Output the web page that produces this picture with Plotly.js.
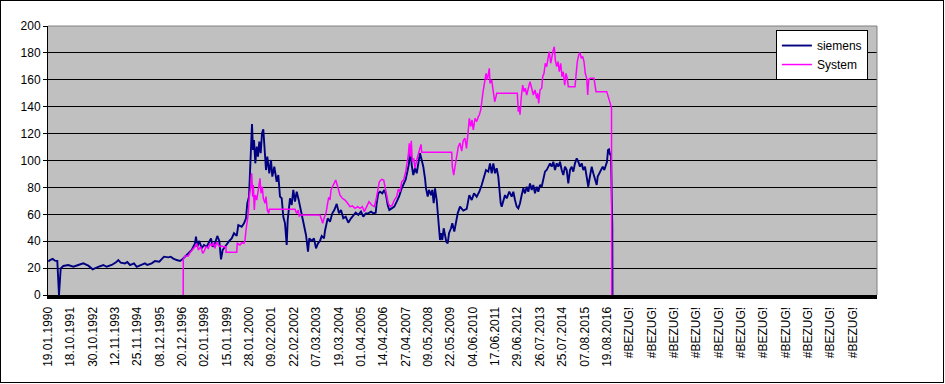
<!DOCTYPE html>
<html>
<head>
<meta charset="utf-8">
<script src="https://cdn.plot.ly/plotly-3.0.1.min.js"></script>
<style>
  html, body { margin: 0; padding: 0; background: #fff; }
  #frame { width: 942px; height: 381px; border: 1px solid #000; position: relative; }
  #chart { width: 942px; height: 381px; }
</style>
</head>
<body>
<div id="frame"><div id="chart"></div></div>
<script>
// Category tick labels (every LABEL_STEP sample positions)
const tickLabels = [
  "19.01.1990","18.10.1991","30.10.1992","12.11.1993","25.11.1994","08.12.1995",
  "20.12.1996","02.01.1998","15.01.1999","28.01.2000","09.02.2001","22.02.2002",
  "07.03.2003","19.03.2004","01.04.2005","14.04.2006","27.04.2007","09.05.2008",
  "22.05.2009","04.06.2010","17.06.2011","29.06.2012","26.07.2013","25.07.2014",
  "07.08.2015","19.08.2016",
  "#BEZUG!","#BEZUG!","#BEZUG!","#BEZUG!","#BEZUG!","#BEZUG!",
  "#BEZUG!","#BEZUG!","#BEZUG!","#BEZUG!","#BEZUG!"
];
const LABEL_STEP = 22.36;   // sample positions between two labels
const X_END = 829;          // last category position on the axis

// siemens: sample position, value
const siemensX = [0.3,2,4.7,7,9.3,10.3,11,12.7,15.3,20.3,25.3,30.3,35.3,40.3,44.7,50.3,55.3,58.7,63.7,68,70.3,72.7,77,79.3,82,86,88.7,92.7,97,99.3,103.7,107,111.3,116,120.3,122.7,125.3,128.7,132,134.7,
137,140.3,143.7,147,148,149.3,151.3,153.7,156,158.7,161.3,163,164.7,167,169.3,171.3,173,174.7,177,179.3,181.3,183.7,186,188.7,190.3,193.7,196,198,199.3,201,202,203,204,205,206,207.3,208.7,210,211.3,212.7,214,215.3,216.3,218,219.3,221.3,223,224.3,226.3,228.7,230.3,231.3,232,233.7,235.3,237,238.7,239.7,242,243.7,245.3,247,248.7,250.7,252.7,254.7,256,258,260,261.3,263.7,266,268,270,272,273.7,276,
277,279.7,282,284.3,286.3,288.7,291,293,295.3,297.7,300.3,303,305.3,307.7,310.3,313,315.3,317.7,320.3,323,325.3,327.7,328.7,330.3,332,334.3,336.3,338,339.7,341.3,343.7,346.3,348.7,351,353.7,355.7,357.7,359.7,361,362.3,363.7,365.3,367,368.7,370.3,372,373.7,375.3,377,378,379.7,381,383,384.3,385.7,387,388.7,389.7,391,392,393,394.3,395.7,397,398.3,399.7,401,403,404.3,406.3,407.7,409.7,
412,415.3,418.7,421.3,423.7,426,428.7,431.3,433.7,436,438,440.3,442,443.7,445.3,447,448.7,450.3,451.3,452.7,453.7,455.3,457,458.7,461.3,463.7,465.3,467,468.7,470.3,472,473.7,475.3,477,478.7,480.3,482,483.7,485.3,487,488.7,490.3,492,493.7,495.3,497,498.7,500.3,502,503.7,505.3,507,508.7,510.3,512,513.7,515.3,517,518.7,520.3,522,523.7,525.3,527,528.7,530.3,532,533.7,535.3,537,538.7,540.3,541.3,542.7,543.7,545.3,547,548.7,549.7,551.3,552.7,554.7,556.3,557.7,559,560,561,562,563,564.3,564.5];
const siemensY = [24.8,26.0,26.8,25.5,25.3,12.4,0,19.8,21.6,22.3,21.0,22.3,23.5,21.8,19.1,21.0,22.3,21.0,22.3,24.3,26.0,24.0,23.5,24.5,22.3,23.5,21.0,22.3,23.5,22.3,23.5,25.3,24.8,28.5,28.0,28.5,27.1,26.0,25.3,26.8,
28.5,31,33.5,38.4,43.4,35.9,40.2,34.7,37.2,35.9,40.2,42.1,35.9,38.4,43.9,40.2,26.5,33.5,35.9,38.4,40.2,42.1,45.9,43.9,52.0,50.8,53.3,57.0,68.2,73.1,90.5,112.8,127.1,107.8,115.2,97.9,110.3,102.9,114,105.4,120.2,123.2,107.8,92.9,102.9,90.5,100.4,88,95.4,84.2,89.2,79.3,73.1,71.9,58.2,53.3,37.2,55.8,71.9,66.9,78.1,69.4,76.8,70.6,63.2,55.8,50.8,44.6,32.2,42.1,40.2,42.1,34.7,38.4,40.2,43.9,42.1,
47.8,57.0,54.5,60.7,63.2,67.7,60.7,63.2,57.0,58.2,53.8,57.0,59.5,61.2,59.5,62,58.2,60.7,60.7,62,60.7,61.2,68.2,75.6,76.8,75.6,78.1,74.3,66.9,63.2,64.4,65.7,69.4,73.1,79.3,83,86.0,92.9,97.9,110.3,96.6,89.2,94.2,90.5,97.9,105.4,100.4,95.4,86.8,79.3,73.1,78.1,74.3,78.1,68.2,79.3,70.6,63.2,50.8,40.9,45.9,40.9,49.6,43.4,39.6,38.4,45.9,49.6,53.3,47.1,53.3,60.7,
65.7,62.8,64,74.3,70.6,75.6,73.1,76.8,81.8,88,92.9,91.7,97.9,90.5,97.9,90.5,94.2,88,78.1,68.2,65.7,70.6,74.3,71.9,76.8,73.1,76.8,70.6,65.7,64.4,68.2,74.3,79.3,75.6,80.5,76.8,83.0,78.1,81.8,75.6,80.5,76.8,81.8,80.5,85.5,91.7,92.9,95.4,97.9,95.4,99.1,92.9,97.9,95.4,99.1,92.9,89.2,95.4,92.9,83,92.9,95.4,91.7,97.9,101.6,99.1,95.4,97.9,92.9,95.4,88,80.5,85.5,92.9,95.4,90.5,85.5,81.8,88,90.5,92.9,95.4,92.9,96.6,99.1,107.8,108.3,104.1,105.4,50.8,0];

// System: sample position, value
const systemX = [135.2,135.3,137,140.3,142,144.7,147,148.7,150.3,152.7,154.7,156,158,160.3,162,163.7,165.3,167,168.7,170.3,172,173.7,175.3,178,178,188.7,189.3,192,193.7,196,197,198,199.3,200.3,201.3,202.7,203.7,204.7,205.3,206.3,207.3,208.7,210.3,212,213,214.3,215.3,217,218,219.3,220.7,221.3,247,248.7,250.3,251.3,252.7,272,273.7,274.7,276,278,279.3,280.7,282,
283,285.3,287.7,289.7,292,294.3,297,299.7,302,304.3,307,309.7,312,314.3,316.3,318.7,321,323.7,326.3,328,329.7,331.3,333.7,335.7,337,338.7,340.3,342.3,344.3,346.3,348.7,350.3,352,353.7,355.7,357.7,359,360.3,361.3,362.3,363.3,364.3,365.7,367,368.7,370.3,371.7,373,373.7,403.7,404.3,405.7,407,408.7,410.3,
412,413.7,415.3,417,418.5,419.5,420.3,421.3,422.7,424,425.3,427,428.7,430.3,431.3,432.7,433.7,435.3,437,438,439.3,440.7,441.3,442,443.7,445.3,446.7,448,448.7,469.3,470.3,471.3,472,473.3,474.7,476,477.3,478.7,480.3,482,483.7,485.3,487,488.7,489.7,490.7,492,493.7,494.7,496,497.3,498.7,500,501.3,502.7,504,505.3,506.3,507.3,508.7,510,511.3,512.7,514,515.3,516.7,518,519.3,520.3,527,528,529.3,530.7,532,533.3,534.7,536,537.3,538.7,539.7,540.7,542,546,547,548,558.7,560.3,561.3,562.7,563.5,563.7];
const systemY = [0,26.5,29.0,29,31.5,33.5,35.9,38.4,33.5,35.9,31,32.2,35.9,34.7,38.4,36.4,38.9,34.7,39.4,37.2,35.9,36.4,35.9,35.9,31.7,31.7,38.4,37.2,38.9,38.4,40.9,48.3,55.8,60.7,73.1,80.5,90.5,73.1,81.8,63.2,74.3,70.6,78.1,86.8,75.6,80.5,71.9,68.2,73.1,63.2,60.7,63.7,63.7,60.7,63.2,58.7,59.5,59.5,55.8,53.3,57.0,60.7,66.9,72.6,70.6,
78.1,81.8,85.5,80.5,74.3,71.9,70.6,68.2,65.7,66.2,64.4,65.7,64.4,65.7,62,65.7,69.4,66.9,65.7,70.6,76.8,84.2,86.0,85.5,80.5,73.1,68.2,65.7,66.9,70.6,73.1,78.6,76.8,84.2,85.5,91.7,96.7,104.1,112.8,102.9,114.7,99.1,101.6,94.2,100.4,105.4,110.3,112,106.1,106.1,95.4,89.2,95.4,102.9,110.3,
113,107,115,116.5,109,115.2,122.7,131.4,125.2,130.1,122.7,131.4,128.9,132.6,133.8,137.5,145,152.4,159.9,164.8,159.9,167.3,168.5,157.4,159.9,151.2,143.7,147.5,150,150,136.3,140,134,147.4,156.1,151.2,153.7,148.7,154.9,158.6,153.7,148.7,152.4,146.2,150,142.5,152.4,153.7,162.3,164.8,172.3,169.8,176,180.9,172.3,178.5,182.2,184.6,174.7,169.8,173.5,166,172.3,162.3,166,156.1,164.8,161.1,154.9,154.9,164.8,173.5,178.5,180.2,176,177.3,173.5,164.8,161.1,148.7,159.9,161.1,161.1,157.4,151.2,151.2,147.4,143.7,141.3,139.4,0];

const FONT = "Liberation Sans, Arial, sans-serif";

const traces = [
  { type: "scatter", mode: "lines", name: "siemens", x: siemensX, y: siemensY,
    line: { color: "#000080", width: 1.9 } },
  { type: "scatter", mode: "lines", name: "System", x: systemX, y: systemY,
    line: { color: "#FF00FF", width: 1.5 } }
];

const layout = {
  width: 942, height: 381,
  margin: { l: 47, r: 66, t: 25, b: 87, pad: 0 },
  paper_bgcolor: "#ffffff",
  plot_bgcolor: "#C0C0C0",
  font: { family: FONT, size: 12, color: "#000" },
  showlegend: true,
  legend: {
    x: 0.989, xanchor: "right", y: 0.985, yanchor: "top",
    bgcolor: "#ffffff", bordercolor: "#000", borderwidth: 1,
    font: { family: FONT, size: 12, color: "#000" },
    itemwidth: 30, tracegroupgap: 0
  },
  xaxis: {
    range: [0, X_END], type: "linear",
    tickmode: "array",
    tickvals: tickLabels.map((_, i) => i * LABEL_STEP),
    ticktext: tickLabels,
    tickangle: -90,
    ticks: "", showgrid: false, zeroline: false,
    showline: true, linecolor: "#000", linewidth: 4,
    ticklabelstandoff: 3,
    tickfont: { family: FONT, size: 12, color: "#000" },
    fixedrange: true
  },
  yaxis: {
    range: [0, 200], dtick: 20, tick0: 0,
    showgrid: true, gridcolor: "#000", gridwidth: 1,
    zeroline: false,
    showline: true, linecolor: "#000", linewidth: 1,
    ticks: "outside", ticklen: 4, tickcolor: "#000", tickwidth: 1,
    tickfont: { family: FONT, size: 12, color: "#000" },
    fixedrange: true
  },
  shapes: [
    { type: "line", xref: "paper", yref: "paper", x0: 0, x1: 1, y0: 1, y1: 1,
      line: { color: "#808080", width: 1 }, layer: "above" },
    { type: "line", xref: "paper", yref: "paper", x0: 1, x1: 1, y0: 0, y1: 1,
      line: { color: "#808080", width: 1 }, layer: "above" }
  ]
};

Plotly.newPlot("chart", traces, layout, { staticPlot: true, displayModeBar: false });
</script>
</body>
</html>
